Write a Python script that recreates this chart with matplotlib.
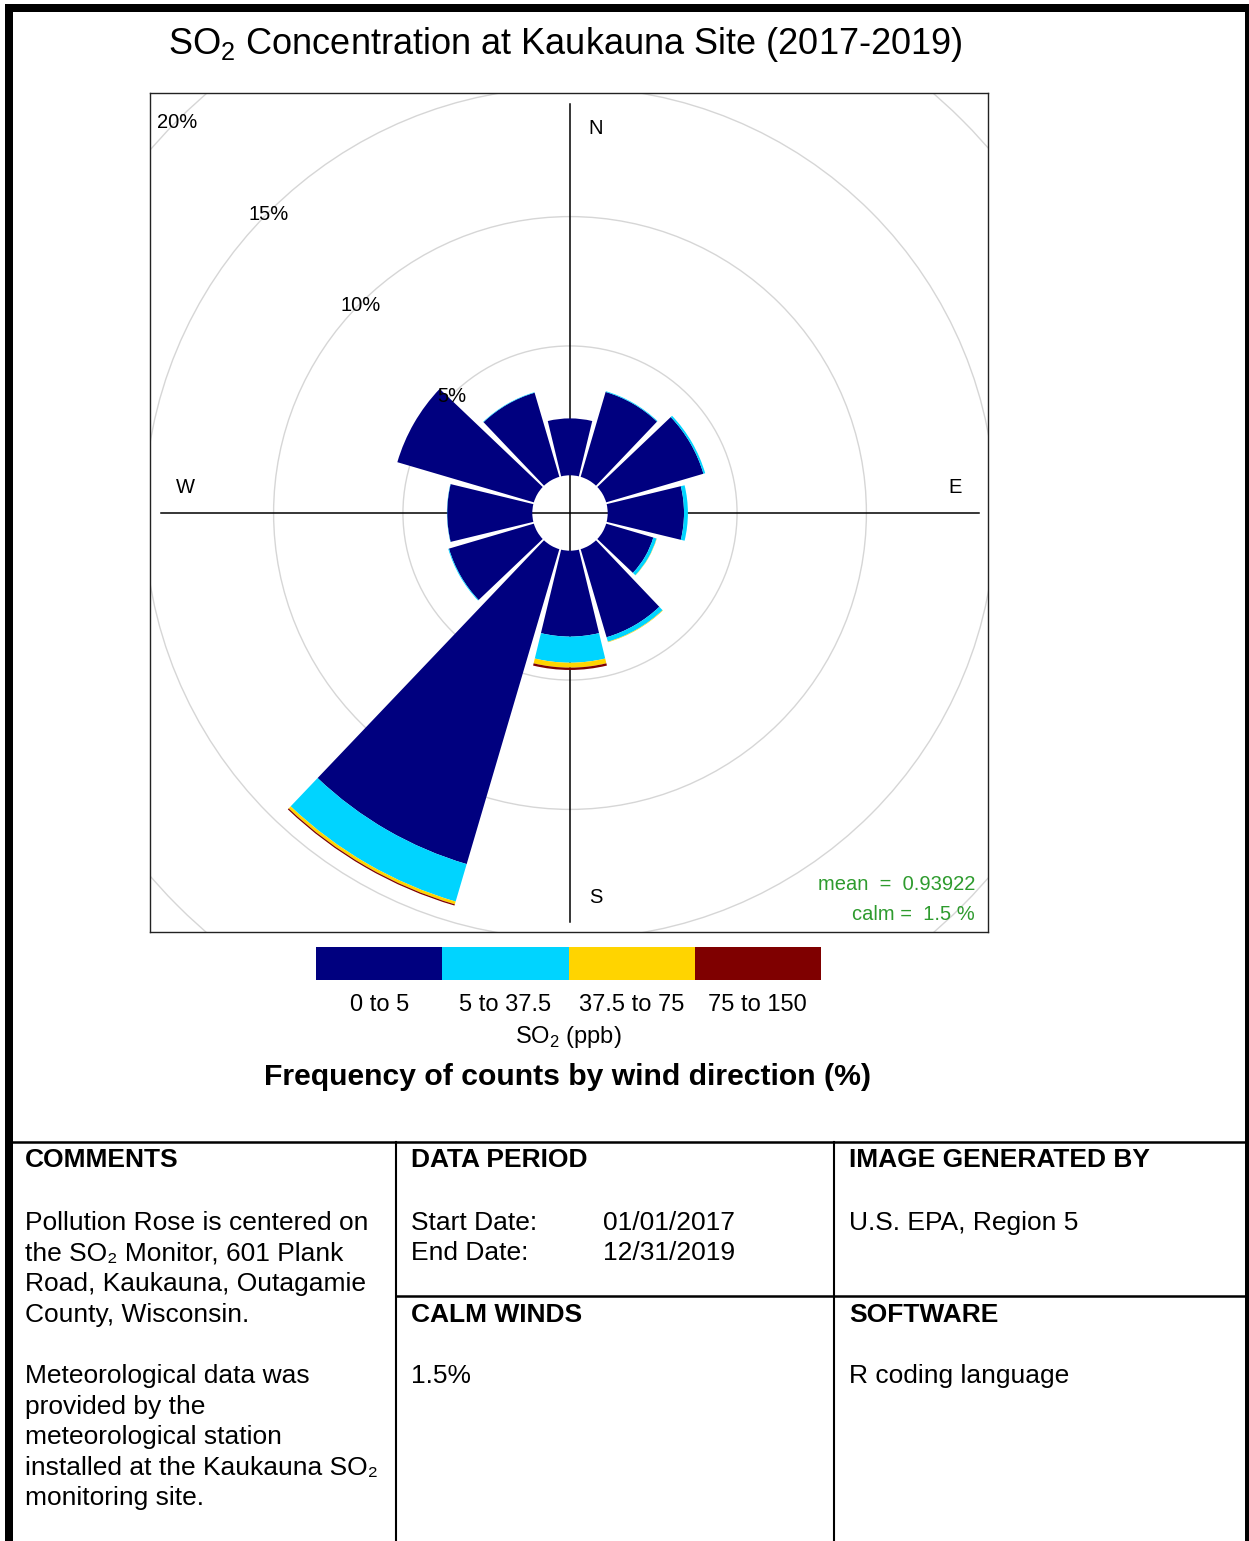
import numpy as np
import matplotlib
matplotlib.use('Agg')
import matplotlib.pyplot as plt
from matplotlib.patches import Wedge, Circle, Rectangle
from matplotlib.lines import Line2D

plt.rcParams['font.family'] = ['Liberation Sans', 'DejaVu Sans']
plt.rcParams['mathtext.fontset'] = 'custom'
plt.rcParams['mathtext.rm'] = 'Liberation Sans'

# Data (frequency of counts, % per 30 deg sector, by SO2 bin)
directions = np.arange(0, 360, 30)
bins = ['0 to 5', '5 to 37.5', '37.5 to 75', '75 to 150']
colours = ['#00007F', '#00D4FF', '#FFD400', '#7F0000']
freq_0_5 = [2.20, 3.42, 3.92, 2.95, 1.90, 3.55, 3.32, 12.69, 3.42, 3.29, 5.50, 3.39]
freq_5_37 = [0.00, 0.03, 0.07, 0.15, 0.13, 0.18, 1.01, 1.51, 0.03, 0.01, 0.00, 0.02]
freq_37_75 = [0.00, 0.00, 0.00, 0.00, 0.01, 0.02, 0.19, 0.11, 0.00, 0.00, 0.00, 0.00]
freq_75_150 = [0.00, 0.00, 0.00, 0.00, 0.00, 0.00, 0.09, 0.05, 0.00, 0.00, 0.00, 0.00]
grid_levels = [5, 10, 15, 20, 25]
mean_conc = 0.93922
calm_pct = 1.5

stack = np.array([freq_0_5, freq_5_37, freq_37_75, freq_75_150])

# Figure (pixel helpers)
W, H = 1249, 1541
fig = plt.figure(figsize=(W / 100, H / 100), dpi=100)


def fx(x):
    return x / W


def fy(y):
    return 1 - y / H


# Pollution rose panel
k = 25.87          # px per percent
off = 37.7 / k     # calm hole
ax = fig.add_axes([fx(150), fy(932), (988 - 150) / W, (932 - 93) / H])
ax.set_xlim(-420 / k, 418 / k)
ax.set_ylim(-419 / k, 420 / k)
ax.set_xticks([])
ax.set_yticks([])
for s in ax.spines.values():
    s.set_linewidth(1.0)
    s.set_color('#222222')

for g in grid_levels:
    ax.add_patch(Circle((0, 0), off + g, fill=False, ec='#d6d6d6', lw=1.0, zorder=1))

rmax = off + stack.sum(axis=0).max()
ax.plot([0, 0], [-rmax, rmax], color='black', lw=1.1, zorder=2)
ax.plot([-rmax, rmax], [0, 0], color='black', lw=1.1, zorder=2)

hw = 13.6
for i, d in enumerate(directions):
    base = off
    for j in range(len(bins)):
        v = stack[j, i]
        if v > 0:
            ax.add_patch(Wedge((0, 0), base + v, 90 - d - hw, 90 - d + hw, width=v,
                               fc=colours[j], ec='none', zorder=3))
        base += v

lab = 0.94 * rmax
ax.text(1.0, lab, 'N', ha='center', va='center', fontsize=14.5, zorder=5)
ax.text(lab, 1.0, 'E', ha='center', va='center', fontsize=14.5, zorder=5)
ax.text(1.0, -lab, 'S', ha='center', va='center', fontsize=14.5, zorder=5)
ax.text(-lab, 1.0, 'W', ha='center', va='center', fontsize=14.5, zorder=5)

for g in grid_levels[:4]:
    r = off + g
    ax.text(-r * np.sin(np.pi / 4), r * np.cos(np.pi / 4) - 0.08, '{}%'.format(g),
            ha='center', va='center', fontsize=14.5, zorder=5)

ax.text(405 / k, -372 / k, 'mean  =  {}'.format(mean_conc), ha='right', va='center',
        fontsize=14.5, color='#2E9B2E', zorder=5)
ax.text(405 / k, -402 / k, 'calm =  {} %'.format(calm_pct), ha='right', va='center',
        fontsize=14.5, color='#2E9B2E', zorder=5)

# Title
fig.text(fx(565), fy(45), 'SO$_\\mathregular{2}$ Concentration at Kaukauna Site (2017-2019)',
         ha='center', va='center', fontsize=26)

# Colour key
lax = fig.add_axes([fx(316), fy(980), (821 - 316) / W, 33 / H])
lax.bar(range(len(bins)), [1] * len(bins), width=1.0, color=colours)
lax.set_xlim(-0.5, len(bins) - 0.5)
lax.set_ylim(0, 1)
lax.set_yticks([])
lax.set_xticks(range(len(bins)), bins, fontsize=17)
lax.tick_params(axis='x', length=0, pad=10)
for s in lax.spines.values():
    s.set_visible(False)
lax.set_xlabel('SO$_\\mathregular{2}$ (ppb)', fontsize=17, labelpad=6)

fig.text(fx(568), fy(1077), 'Frequency of counts by wind direction (%)',
         ha='center', va='center', fontsize=21.7, fontweight='bold')

# Page border
fig.add_artist(Rectangle((fx(5), fy(12)), 1 - fx(5), 8 / H, transform=fig.transFigure,
                         color='black', lw=0))
fig.add_artist(Rectangle((fx(5), 0), 8 / W, fy(4), transform=fig.transFigure,
                         color='black', lw=0))
fig.add_artist(Rectangle((fx(1245), 0), 4 / W, fy(4), transform=fig.transFigure,
                         color='black', lw=0))

# Info table
fig.add_artist(Line2D([fx(13), fx(1245)], [fy(1142), fy(1142)], color='black', lw=1.8))
fig.add_artist(Line2D([fx(396), fx(1245)], [fy(1296), fy(1296)], color='black', lw=1.8))
for xl in [396, 834]:
    fig.add_artist(Line2D([fx(xl), fx(xl)], [fy(1142), 0], color='black', lw=1.5))

fs = 19
for x, text in [(25, 'COMMENTS'), (411, 'DATA PERIOD'), (849, 'IMAGE GENERATED BY')]:
    fig.text(fx(x), fy(1167), text, fontsize=fs, fontweight='bold', va='baseline')
for x, text in [(411, 'CALM WINDS'), (849, 'SOFTWARE')]:
    fig.text(fx(x), fy(1322), text, fontsize=fs, fontweight='bold', va='baseline')

comments = ['Pollution Rose is centered on', 'the SO₂ Monitor, 601 Plank',
            'Road, Kaukauna, Outagamie', 'County, Wisconsin.', '',
            'Meteorological data was', 'provided by the', 'meteorological station',
            'installed at the Kaukauna SO₂', 'monitoring site.']
for n, line in enumerate(comments):
    fig.text(fx(25), fy(1230 + 30.6 * n), line, fontsize=fs, va='baseline')

fig.text(fx(411), fy(1230), 'Start Date:', fontsize=fs, va='baseline')
fig.text(fx(603), fy(1230), '01/01/2017', fontsize=fs, va='baseline')
fig.text(fx(411), fy(1260), 'End Date:', fontsize=fs, va='baseline')
fig.text(fx(603), fy(1260), '12/31/2019', fontsize=fs, va='baseline')
fig.text(fx(849), fy(1230), 'U.S. EPA, Region 5', fontsize=fs, va='baseline')
fig.text(fx(411), fy(1383), '{}%'.format(calm_pct), fontsize=fs, va='baseline')
fig.text(fx(849), fy(1383), 'R coding language', fontsize=fs, va='baseline')

fig.savefig('out.png', dpi=100)
